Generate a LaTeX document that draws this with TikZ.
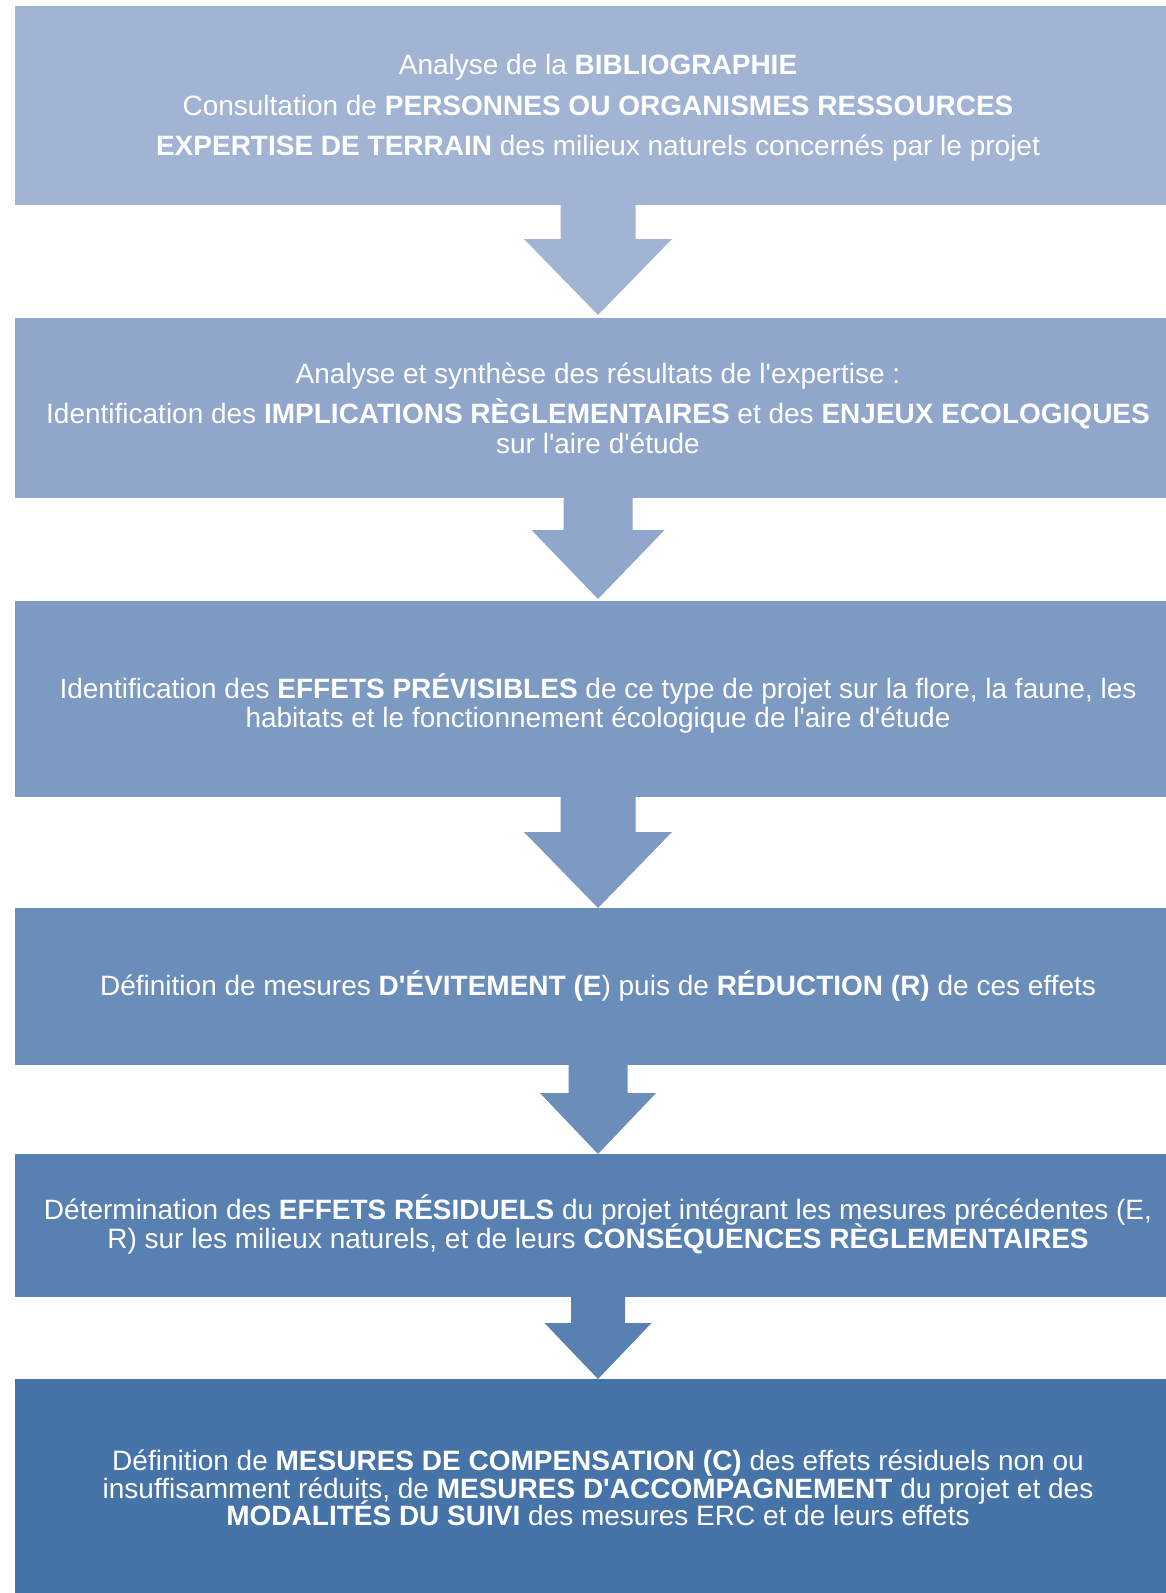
\documentclass[tikz,border=0pt]{standalone}
\usepackage{fontspec}
\setmainfont{Liberation Sans}
\definecolor{cA}{HTML}{A2B4D4}
\definecolor{cB}{HTML}{90A7CB}
\definecolor{cC}{HTML}{7D9AC2}
\definecolor{cD}{HTML}{6B8DBA}
\definecolor{cE}{HTML}{5880B1}
\definecolor{cF}{HTML}{4673A8}
\newcommand\q{\textquotesingle}
\begin{document}
\begin{tikzpicture}[x=1pt,y=-1pt,
  txt/.style={text=white,font=\fontsize{28}{30}\selectfont,inner sep=0pt,anchor=base}]
\useasboundingbox (0,0) rectangle (1166,1593);
\newcommand\blockbox[4]{\fill[#4] (15,#2) rectangle (1166,#3); \coordinate (#1) at (598,#2);}
\newcommand\barrow[6]{\fill[#6] (598-#4,#1) -- (598+#4,#1) -- (598+#4,#2) -- (598+#5,#2) -- (598,#3) -- (598-#5,#2) -- (598-#4,#2) -- cycle;}
% boxes
\blockbox{b1}{6}{205}{cA}
\blockbox{b2}{318}{498}{cB}
\blockbox{b3}{601}{797}{cC}
\blockbox{b4}{908}{1065}{cD}
\blockbox{b5}{1154}{1297}{cE}
\blockbox{b6}{1379}{1593}{cF}
% arrows
\barrow{204}{239}{315}{37.5}{74}{cA}
\barrow{497}{530}{599}{34.5}{66.5}{cB}
\barrow{796}{832}{908}{37.5}{74}{cC}
\barrow{1064}{1093}{1154}{29.5}{58}{cD}
\barrow{1296}{1323}{1379}{27}{53.5}{cE}
% texts
\node[txt] (t11) at (598,74) {Analyse de la \textbf{BIBLIOGRAPHIE}};
\node[txt] (t12) at (598,115) {Consultation de \textbf{PERSONNES OU ORGANISMES RESSOURCES}};
\node[txt] (t13) at (598,155) {\textbf{EXPERTISE DE TERRAIN} des milieux naturels concernés par le projet};
\node[txt] (t21) at (598,383) {Analyse et synthèse des résultats de l\q expertise :};
\node[txt] (t22) at (598,423) {Identification des \textbf{IMPLICATIONS RÈGLEMENTAIRES} et des \textbf{ENJEUX ECOLOGIQUES}};
\node[txt] (t23) at (598,453) {sur l\q aire d\q étude};
\node[txt] (t31) at (598,698) {Identification des \textbf{EFFETS PRÉVISIBLES} de ce type de projet sur la flore, la faune, les};
\node[txt] (t32) at (598,727) {habitats et le fonctionnement écologique de l\q aire d\q étude};
\node[txt] (t41) at (598,995) {Définition de mesures \textbf{D\q ÉVITEMENT (E}) puis de \textbf{RÉDUCTION (R)} de ces effets};
\node[txt] (t51) at (598,1219) {Détermination des \textbf{EFFETS RÉSIDUELS} du projet intégrant les mesures précédentes (E,};
\node[txt] (t52) at (598,1248) {R) sur les milieux naturels, et de leurs \textbf{CONSÉQUENCES RÈGLEMENTAIRES}};
\node[txt] (t61) at (598,1470) {Définition de \textbf{MESURES DE COMPENSATION (C)} des effets résiduels non ou};
\node[txt] (t62) at (598,1498) {insuffisamment réduits, de \textbf{MESURES D\q ACCOMPAGNEMENT} du projet et des};
\node[txt] (t63) at (598,1525) {\textbf{MODALITÉS DU SUIVI} des mesures ERC et de leurs effets};
\end{tikzpicture}
\end{document}
